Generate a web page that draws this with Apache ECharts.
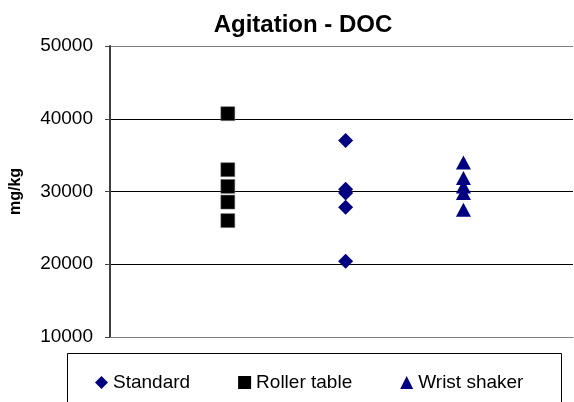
<!DOCTYPE html>
<html>
<head>
<meta charset="utf-8">
<script src="https://cdn.jsdelivr.net/npm/echarts@6/dist/echarts.min.js"></script>
<style>
  html, body { margin: 0; padding: 0; background: #fff; }
  #chart-1 { width: 574px; height: 402px; }
</style>
</head>
<body>
<div id="chart-1"></div>
<script>
// values
let series_names = ['Standard', 'Roller table', 'Wrist shaker'];
let series_x = [2, 1, 3];
let standard_vals = [37000, 30300, 29800, 27850, 20400];
let roller_vals = [40700, 33000, 30700, 28550, 26000];
let wrist_vals = [34000, 31850, 30700, 29800, 27500];
let y_ticks = [10000, 20000, 30000, 40000, 50000];

function Points(x, vals){
    var pts = [];
    for (var i = 0; i < vals.length; i++){
        pts.push([x, vals[i]]);
    }
    return pts;
}

ChartBox = document.getElementById('chart-1');
myChart = echarts.init(ChartBox);
let font = 'Liberation Sans, Arial, sans-serif';

option = {
    animation: false,
    title: {
        text: 'Agitation - DOC',
        left: 298,
        textAlign: 'center',
        top: 8,
        textStyle: { fontFamily: font, fontSize: 24, fontWeight: 'bold', color: '#000' }
    },
    grid: { left: 108, top: 46, right: 1, bottom: 65 },
    graphic: [{
        type: 'rect',
        shape: { x: 67.5, y: 353.5, width: 494, height: 60 },
        style: { fill: '#fff', stroke: '#000', lineWidth: 1 }
    }],
    legend: {
        data: [
            { name: series_names[0], icon: 'diamond' },
            { name: series_names[1], icon: 'rect', itemStyle: { borderWidth: 0 } },
            { name: series_names[2], icon: 'triangle' }
        ],
        left: 90,
        top: 368,
        itemWidth: 13,
        itemHeight: 13,
        itemGap: 48,
        textStyle: { fontFamily: font, fontSize: 19, color: '#000' }
    },
    xAxis: {
        type: 'value',
        min: 0,
        max: 3.93,
        axisLine: { show: true, lineStyle: { color: '#808080', width: 1 } },
        axisTick: { show: false },
        axisLabel: { show: false },
        splitLine: { show: false }
    },
    yAxis: {
        type: 'value',
        min: y_ticks[0],
        max: y_ticks[y_ticks.length - 1],
        interval: 10000,
        name: 'mg/kg',
        nameLocation: 'middle',
        nameGap: 86,
        nameTextStyle: { fontFamily: font, fontSize: 16, fontWeight: 'bold', color: '#000' },
        axisLine: { show: true, lineStyle: { color: '#404040', width: 2 } },
        axisTick: { show: true, inside: false, length: 5, lineStyle: { color: '#404040' } },
        axisLabel: {
            fontFamily: font, fontSize: 19, color: '#000', margin: 17,
            formatter: function (v) { return String(v); }
        },
        splitLine: { show: true, lineStyle: { color: ['#808080', '#000', '#000', '#000', '#808080'], width: 1 } }
    },
    series: [
        {
            name: series_names[0],
            type: 'scatter',
            symbol: 'diamond',
            symbolSize: [15, 15],
            itemStyle: { color: '#000080', opacity: 1 },
            data: Points(series_x[0], standard_vals)
        },
        {
            name: series_names[1],
            type: 'scatter',
            symbol: 'rect',
            symbolSize: [14, 14],
            itemStyle: { color: '#000', borderColor: '#777', borderWidth: 0.5, opacity: 1 },
            data: Points(series_x[1], roller_vals)
        },
        {
            name: series_names[2],
            type: 'scatter',
            symbol: 'triangle',
            symbolSize: [15, 14],
            itemStyle: { color: '#000080', opacity: 1 },
            data: Points(series_x[2], wrist_vals)
        }
    ]
};

myChart.setOption(option);
</script>
</body>
</html>
